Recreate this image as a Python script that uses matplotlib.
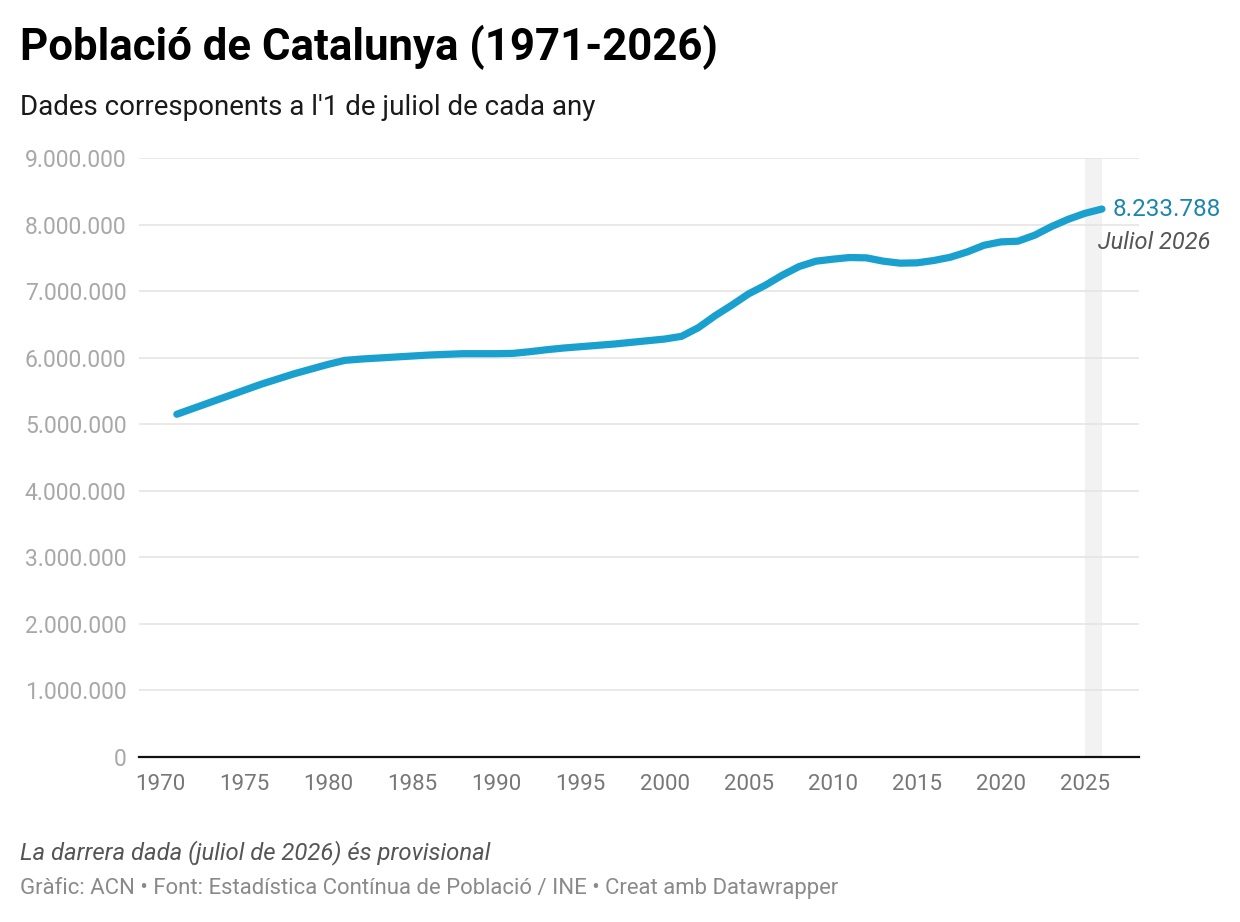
import numpy as np
import matplotlib.pyplot as plt
import matplotlib.ticker as mticker

plt.rcParams['font.family'] = ['Roboto', 'DejaVu Sans']

# dades llegides del grafic (poblacio a l'1 de juliol)
anys = list(range(1971, 2027))
poblacio = [5.15, 5.24, 5.33, 5.42, 5.51, 5.60, 5.68, 5.76, 5.83, 5.90,
            5.96, 5.98, 5.995, 6.01, 6.025, 6.04, 6.05, 6.06, 6.06, 6.06,
            6.065, 6.09, 6.12, 6.145, 6.165, 6.185, 6.205, 6.23, 6.255, 6.28,
            6.32, 6.45, 6.63, 6.79, 6.96, 7.09, 7.24, 7.37, 7.45, 7.48,
            7.505, 7.50, 7.45, 7.42, 7.425, 7.46, 7.51, 7.59, 7.69, 7.74,
            7.75, 7.84, 7.97, 8.08, 8.17, 8.233788]
poblacio = [p * 1e6 for p in poblacio]
xticks = list(range(1970, 2026, 5))
yticks = list(range(0, 9000001, 1000000))

blau = '#1aa0cf'

fig = plt.figure(figsize=(12.4, 9.22), dpi=100)
ax = fig.add_axes([0.1121, 0.1790, 0.8064, 0.6496])

# franja de la dada provisional
ax.axvspan(2025, 2026, color='#f2f2f2', zorder=0, lw=0)

ax.plot(anys, poblacio, color=blau, lw=5.2, solid_capstyle='round',
        solid_joinstyle='round', zorder=3)

ax.set_xlim(1968.75, 2028.2)
ax.set_ylim(0, 9000000)
ax.set_xticks(xticks)
ax.set_yticks(yticks)
ax.yaxis.set_major_formatter(mticker.FuncFormatter(
    lambda v, p: '{:,.0f}'.format(v).replace(',', '.')))

ax.grid(axis='y', color='#e3e3e3', lw=1.1, zorder=1)
ax.set_axisbelow(True)
for s in ['top', 'right', 'left']:
    ax.spines[s].set_visible(False)
ax.spines['bottom'].set_color('#111111')
ax.spines['bottom'].set_linewidth(1.6)
ax.spines['bottom'].set_zorder(4)

ax.tick_params(axis='y', length=0, pad=9, labelsize=16.5, labelcolor='#a8a8a8')
ax.tick_params(axis='x', length=0, pad=12, labelsize=16, labelcolor='#777777')

# etiquetes de l'ultim punt
ax.annotate('8.233.788', xy=(anys[-1], poblacio[-1]), xytext=(8, 0),
            textcoords='offset points', ha='left', va='center',
            fontsize=17.5, color='#1a86ad')
ax.annotate('Juliol 2026', xy=(anys[-1], poblacio[-1]), xytext=(78, -24),
            textcoords='offset points', ha='right', va='center',
            fontsize=17, color='#555555', style='italic')

fig.text(0.0161, 0.949, 'Població de Catalunya (1971-2026)', fontsize=31.5,
         fontweight='bold', color='#000000', va='center')
fig.text(0.0161, 0.883, "Dades corresponents a l'1 de juliol de cada any",
         fontsize=20, color='#1a1a1a', va='center')
fig.text(0.0161, 0.075, 'La darrera dada (juliol de 2026) és provisional',
         fontsize=17.2, color='#555555', style='italic', va='center')
fig.text(0.0161, 0.037,
         'Gràfic: ACN • Font: Estadística Contínua de Població / INE • Creat amb Datawrapper',
         fontsize=15.9, color='#8a8a8a', va='center')

fig.savefig('out.png', dpi=100, facecolor='white')
